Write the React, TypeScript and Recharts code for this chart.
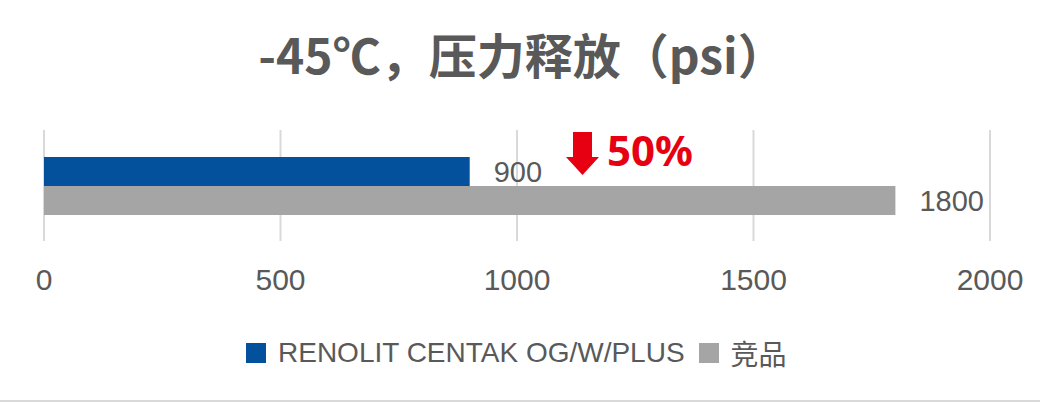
import { BarChart, Bar, XAxis, YAxis, CartesianGrid, LabelList } from 'recharts'

// data
const categories = ['-45℃']
const seriesNames = ['RENOLIT CENTAK OG/W/PLUS', '竞品']
const renolitValues = [900]
const competitorValues = [1800]
const xTicks = [0, 500, 1000, 1500, 2000]
const titleText = '-45℃，压力释放（psi）'
const dropText = '50%'

const BLUE = '#03509d'
const GRAY = '#a5a5a5'
const TEXT = '#595959'
const RED = '#e60012'

const data = categories.map((name, i) => ({
  name,
  renolit: renolitValues[i],
  competitor: competitorValues[i]
}))

export default function App() {
  const colors = [BLUE, GRAY]
  return (
    <div
      style={{
        position: 'relative',
        width: 1040,
        height: 403,
        background: '#fff',
        fontFamily: '"Liberation Sans", Arial, "Noto Sans CJK SC", sans-serif',
        overflow: 'hidden'
      }}
    >
      <style>{'body{margin:0}'}</style>

      <BarChart
        width={1040}
        height={403}
        data={data}
        layout="vertical"
        margin={{ top: 130, right: 50, left: 44, bottom: 102 }}
        barGap={0}
      >
        <CartesianGrid horizontal={false} stroke="#d9d9d9" strokeWidth={2} />
        <XAxis
          type="number"
          domain={[0, 2000]}
          ticks={xTicks}
          axisLine={false}
          tickLine={false}
          tickMargin={22}
          height={60}
          interval={0}
          tick={{ fill: TEXT, fontSize: 30 }}
        />
        <YAxis type="category" dataKey="name" hide />
        <Bar dataKey="renolit" name={seriesNames[0]} fill={BLUE} barSize={29} isAnimationActive={false}>
          <LabelList dataKey="renolit" position="right" offset={24} fill={TEXT} fontSize={29} />
        </Bar>
        <Bar dataKey="competitor" name={seriesNames[1]} fill={GRAY} barSize={29} isAnimationActive={false}>
          <LabelList dataKey="competitor" position="right" offset={24} fill={TEXT} fontSize={29} />
        </Bar>
      </BarChart>

      {/* title and the -50% callout */}
      <svg
        width={1040}
        height={403}
        style={{ position: 'absolute', left: 0, top: 0, pointerEvents: 'none' }}
      >
        <text
          x={522}
          y={74}
          textAnchor="middle"
          fontSize={48}
          fontWeight="bold"
          fill={TEXT}
          fontFamily='"Noto Sans CJK SC", sans-serif'
        >
          {titleText}
        </text>
        <polygon
          points="573,132 592,132 592,157 599,157 582.5,175 566,157 573,157"
          fill={RED}
        />
        <text
          x={607}
          y={166}
          fontSize={42}
          fontWeight="bold"
          fill={RED}
          fontFamily='"Noto Sans", sans-serif'
        >
          {dropText}
        </text>
      </svg>

      {/* legend */}
      <div
        style={{
          position: 'absolute',
          left: 246,
          top: 338,
          height: 30,
          display: 'flex',
          alignItems: 'center',
          fontSize: 28,
          lineHeight: '30px',
          color: TEXT
        }}
      >
        {seriesNames.map((n, i) => (
          <div key={n} style={{ display: 'flex', alignItems: 'center', marginRight: 14 }}>
            <span style={{ width: 20, height: 20, background: colors[i], marginRight: 12 }} />
            <span style={{ fontFamily: i === 1 ? '"Noto Sans CJK SC", sans-serif' : undefined }}>{n}</span>
          </div>
        ))}
      </div>

      <div style={{ position: 'absolute', left: 0, top: 400, width: 1040, height: 2, background: '#d9d9d9' }} />
    </div>
  )
}
